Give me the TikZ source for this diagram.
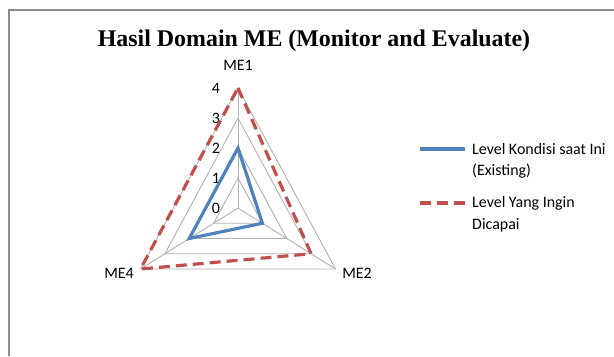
\documentclass[tikz,border=0pt]{standalone}
\usepackage{fontspec}
\setmainfont{Carlito}
\newfontfamily\titlefont{Liberation Serif}
\definecolor{seriesblue}{HTML}{4F81BD}
\definecolor{seriesred}{HTML}{C0504D}
\begin{document}
\begin{tikzpicture}[x=1bp,y=1bp,
    frameline/.style={draw=gray!90, line width=1.5bp},
    gridline/.style={draw=gray!60, line width=0.9bp},
    current/.style={draw=seriesblue, line width=3.2bp},
    target/.style={draw=seriesred, line width=3.2bp, dash pattern=on 11bp off 6bp},
    chartlabel/.style={font=\fontsize{16}{19}\selectfont, inner sep=0pt},
    keytext/.style={chartlabel, anchor=west}]
    \useasboundingbox (-238,-148) rectangle (376,208);
    % Chart frame (only top and left edges visible)
    \draw[frameline] (-229,-148) -- (-229,198) -- (376,198);

    % Title
    \node[inner sep=0pt, font=\titlefont\bfseries\fontsize{24}{28}\selectfont] (title) at (76,167)
        {Hasil Domain ME\ (Monitor and Evaluate)};

    % Axis end points (level 4)
    \coordinate (o) at (0,0);
    \coordinate (me1) at (0,120);
    \coordinate (me2) at (97.5,-61);
    \coordinate (me4) at (-97.5,-61);

    % Grid rings and spokes
    \foreach \k in {1,...,4}
        \draw[gridline] (0,30*\k) -- (24.375*\k,-15.25*\k) -- (-24.375*\k,-15.25*\k) -- cycle;
    \foreach \v in {me1,me2,me4}
        \draw[gridline] (o) -- (\v);

    % Tick labels
    \foreach \k in {0,...,4}
        \node[chartlabel] (tick\k) at (-22,30*\k) {\k};

    % Axis labels
    \node[chartlabel] (lab1) at (0,143) {ME1};
    \node[chartlabel] (lab2) at (119,-65) {ME2};
    \node[chartlabel] (lab4) at (-119,-65) {ME4};

    % Data series
    \draw[current] (0,60) -- (24.375,-15.25) -- (-48.75,-30.5) -- cycle;
    \draw[target] (me1) -- (73.125,-45.75) -- (me4) -- cycle;

    % Legend
    \coordinate (keya1) at (182,59);
    \coordinate (keya2) at (227,59);
    \coordinate (keyb1) at (182,5);
    \coordinate (keyb2) at (227,5);
    \draw[current] (keya1) -- (keya2);
    \draw[target] (keyb1) -- (keyb2);
    \node[keytext] (keya) at (234,59) {Level Kondisi saat Ini};
    \node[keytext] (keyaa) at (234,36.5) {(Existing)};
    \node[keytext] (keyb) at (234,5) {Level Yang Ingin};
    \node[keytext] (keybb) at (234,-17.5) {Dicapai};
\end{tikzpicture}
\end{document}
